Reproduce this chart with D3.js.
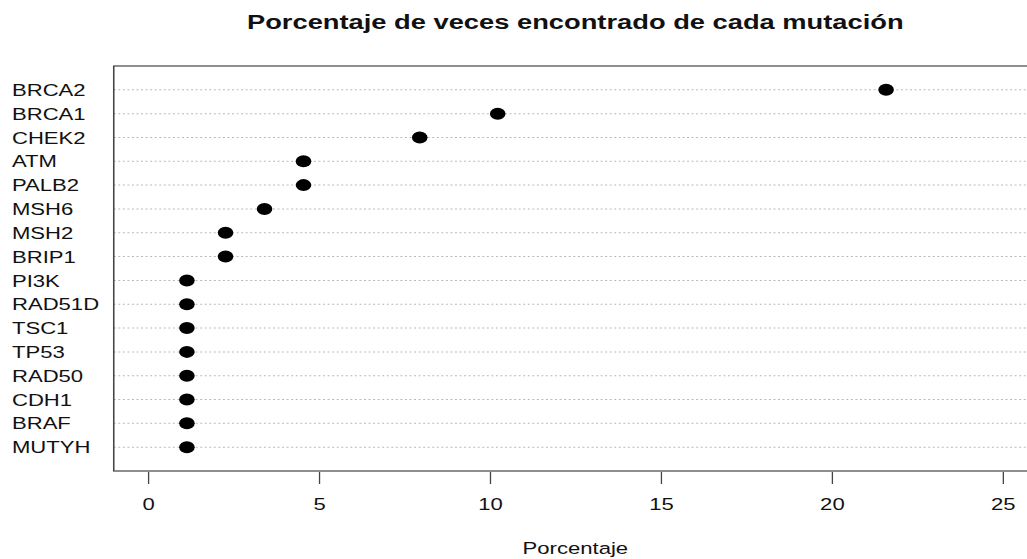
<!DOCTYPE html>
<html>
<head>
<meta charset="utf-8">
<script src="https://cdn.jsdelivr.net/npm/d3@7"></script>
<style>
  body { margin: 0; background: #fff; }
  text { font-family: "Liberation Sans", Arial, Helvetica, sans-serif; fill: #111; }
</style>
</head>
<body>
<div id="root"></div>
<script>
// mutation names, top row first
var genes = ["BRCA2", "BRCA1", "CHEK2", "ATM", "PALB2", "MSH6", "MSH2", "BRIP1",
             "PI3K", "RAD51D", "TSC1", "TP53", "RAD50", "CDH1", "BRAF", "MUTYH"];
// percentage of times found
var pct = [21.59, 10.23, 7.95, 4.55, 4.55, 3.41, 2.27, 2.27,
           1.14, 1.14, 1.14, 1.14, 1.14, 1.14, 1.14, 1.14];
var xTicks = [0, 5, 10, 15, 20, 25];

var W = 1027, H = 559;
var sx = 1.3; // the original picture is stretched sideways

var svg = d3.select("#root")
    .append("svg")
    .attr("width", W)
    .attr("height", H);

var graph = svg.append("g")
    .attr("transform", "scale(" + sx + ",1)");

// plot region
var plotLeft = 87.5, plotTop = 66, plotBottom = 471;

var x = d3.scaleLinear()
    .domain([-1, 26])
    .range([plotLeft, plotLeft + 27 * 26.3]);

var y = d3.scaleLinear()
    .domain([0, 17])
    .range([plotBottom, plotTop]);

var row = function (i) { return y(genes.length - i); };

// dotted guide lines
graph.selectAll("line.guide")
    .data(genes)
    .enter().append("line")
    .attr("class", "guide")
    .attr("x1", x(-1))
    .attr("x2", x(26))
    .attr("y1", (d, i) => row(i))
    .attr("y2", (d, i) => row(i))
    .attr("stroke", "#b8b8b8")
    .attr("stroke-width", 1)
    .attr("stroke-dasharray", "1.5,2");

// box
graph.append("rect")
    .attr("x", x(-1))
    .attr("y", plotTop)
    .attr("width", x(26) - x(-1))
    .attr("height", plotBottom - plotTop)
    .attr("fill", "none")
    .attr("stroke", "#444")
    .attr("stroke-width", 1.2);

// dots
graph.selectAll("circle.dot")
    .data(pct)
    .enter().append("circle")
    .attr("class", "dot")
    .attr("cx", d => x(d))
    .attr("cy", (d, i) => row(i))
    .attr("r", 6)
    .attr("fill", "#000");

// gene labels
graph.selectAll("text.gene")
    .data(genes)
    .enter().append("text")
    .attr("class", "gene")
    .attr("x", 9.2)
    .attr("y", (d, i) => row(i))
    .attr("dy", "0.36em")
    .style("font-size", "17px")
    .text(d => d);

// x axis
var xAxis = graph.append("g")
    .attr("transform", "translate(0," + (plotBottom + 1) + ")")
    .call(d3.axisBottom(x).tickValues(xTicks).tickSize(12).tickPadding(14));
xAxis.select(".domain").remove();
xAxis.selectAll(".tick line").attr("stroke", "#444");
xAxis.selectAll(".tick text")
    .style("font-size", "17px")
    .style("font-family", "'Liberation Sans', Arial, sans-serif")
    .attr("fill", "#111");

// axis title
graph.append("text")
    .attr("x", x(12.5))
    .attr("y", 554)
    .style("text-anchor", "middle")
    .style("font-size", "17px")
    .text("Porcentaje");

// title
graph.append("text")
    .attr("x", x(12.5))
    .attr("y", 29)
    .style("text-anchor", "middle")
    .style("font-size", "21px")
    .style("font-weight", "bold")
    .text("Porcentaje de veces encontrado de cada mutación");
</script>
</body>
</html>
